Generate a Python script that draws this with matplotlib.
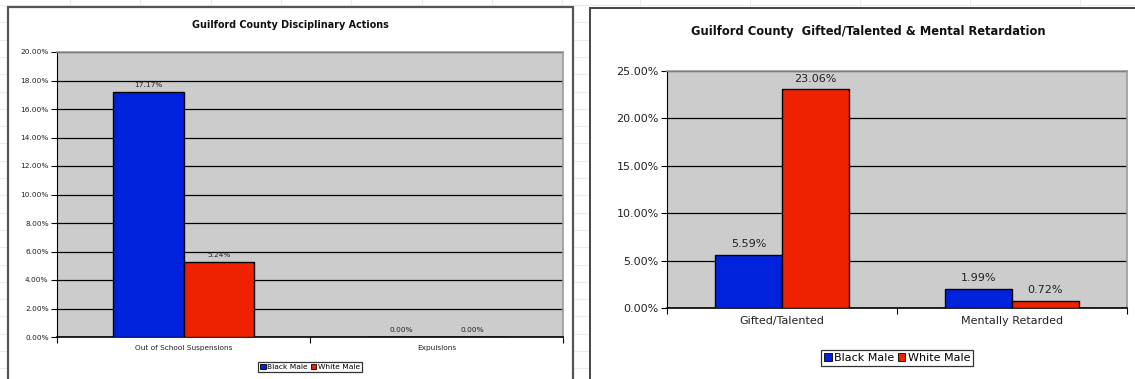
import matplotlib
matplotlib.use("Agg")
import matplotlib.pyplot as plt
from matplotlib.patches import Rectangle, Patch
from matplotlib.ticker import FuncFormatter, MultipleLocator
import numpy as np

# ---- data ----
left_title = "Guilford County Disciplinary Actions"
left_categories = ["Out of School Suspensions", "Expulsions"]
left_black = [17.17, 0.00]
left_white = [5.24, 0.00]

right_title = "Guilford County  Gifted/Talented & Mental Retardation"
right_categories = ["Gifted/Talented", "Mentally Retarded"]
right_black = [5.59, 1.99]
right_white = [23.06, 0.72]

series_names = ["Black Male", "White Male"]
BLUE = "#0022dd"
RED = "#ee2200"
PLOT_BG = "#cccccc"

W, H = 1135, 379
fig = plt.figure(figsize=(W / 100, H / 100), dpi=100)
fig.patch.set_facecolor("white")

def fx(px):
    return px / W

def fy(py):
    return 1 - py / H

# spreadsheet background grid (faint)
bg = fig.add_axes([0, 0, 1, 1], zorder=-10)
bg.set_xlim(0, W)
bg.set_ylim(H, 0)
bg.axis("off")
for yy in np.arange(5, H, 17.3):
    bg.plot([0, W], [yy, yy], color="#ececec", lw=0.8)
for xx in [70, 140, 211, 281, 351, 422, 492, 562, 640, 750, 860, 970, 1080]:
    bg.plot([xx, xx], [0, H], color="#ececec", lw=0.8)

# chart frames (white panels)
bg.add_patch(Rectangle((8, 7), 565, H + 10, facecolor="white", edgecolor="#555555", lw=1.6, zorder=2))
bg.add_patch(Rectangle((590, 8), W, H + 10, facecolor="white", edgecolor="#444444", lw=1.4, zorder=2))

pct = FuncFormatter(lambda v, p: f"{v:.2f}%")

def draw(ax, cats, b, w, ymax, ystep, width, fs_tick, fs_lbl, lbl_off):
    x = np.arange(len(cats))
    ax.set_facecolor(PLOT_BG)
    ax.bar(x - width / 2, b, width, color=BLUE, edgecolor="black", lw=1.0, zorder=3)
    ax.bar(x + width / 2, w, width, color=RED, edgecolor="black", lw=1.0, zorder=3)
    ax.set_xlim(-0.5, len(cats) - 0.5)
    ax.set_ylim(0, ymax)
    ax.yaxis.set_major_locator(MultipleLocator(ystep))
    ax.yaxis.set_major_formatter(pct)
    ax.grid(axis="y", color="black", lw=0.9, zorder=1)
    ax.set_axisbelow(True)
    ax.set_xticks(np.arange(-0.5, len(cats), 1.0))
    ax.set_xticklabels([])
    ax.set_xticks(x, minor=True)
    ax.set_xticklabels(cats, minor=True, fontsize=fs_tick, color="#222222")
    ax.tick_params(axis="x", which="minor", length=0, pad=6)
    ax.tick_params(axis="x", which="major", length=4, direction="out", color="black")
    ax.tick_params(axis="y", length=4, direction="out", labelsize=fs_tick, labelcolor="#222222", pad=2)
    for s in ["top", "right"]:
        ax.spines[s].set_color("#999999")
        ax.spines[s].set_linewidth(1.2)
    ax.spines["left"].set_color("black")
    ax.spines["bottom"].set_color("black")
    ax.spines["bottom"].set_linewidth(1.2)
    for xi, v in zip(x - width / 2, b):
        ax.text(xi, v + lbl_off, f"{v:.2f}%", ha="center", va="bottom", fontsize=fs_lbl, color="#222222", zorder=4)
    for xi, v in zip(x + width / 2, w):
        ax.text(xi, v + lbl_off, f"{v:.2f}%", ha="center", va="bottom", fontsize=fs_lbl, color="#222222", zorder=4)

# ---- left chart ----
axL = fig.add_axes([fx(57), fy(337), fx(563 - 57), (337 - 52) / H], zorder=5)
draw(axL, left_categories, left_black, left_white, 20, 2, 0.28, 5.3, 5.3, 0.3)
fig.text(fx(290), fy(25), left_title, ha="center", va="center", fontsize=6.9, fontweight="bold", color="#111111")
handles = [Patch(facecolor=BLUE, edgecolor="black", lw=0.6), Patch(facecolor=RED, edgecolor="black", lw=0.6)]
legL = fig.legend(handles, series_names, loc="center", bbox_to_anchor=(fx(310), fy(367)), ncol=2,
                  fontsize=5.4, frameon=True, fancybox=False, edgecolor="black", handlelength=0.7,
                  handleheight=0.7, handletextpad=0.2, columnspacing=0.4, borderpad=0.3, borderaxespad=0)
legL.get_frame().set_linewidth(0.9)

# ---- right chart ----
axR = fig.add_axes([fx(667), fy(308), fx(1127 - 667), (308 - 71) / H], zorder=5)
draw(axR, right_categories, right_black, right_white, 25, 5, 0.29, 8.0, 8.0, 0.6)
fig.text(fx(868), fy(32), right_title, ha="center", va="center", fontsize=8.3, fontweight="bold", color="#111111")
legR = fig.legend(handles, series_names, loc="center", bbox_to_anchor=(fx(897), fy(358)), ncol=2,
                  fontsize=8.0, frameon=True, fancybox=False, edgecolor="black", handlelength=0.7,
                  handleheight=0.7, handletextpad=0.2, columnspacing=0.3, borderpad=0.3, borderaxespad=0)
legR.get_frame().set_linewidth(0.9)

fig.savefig("out.png", dpi=100)
